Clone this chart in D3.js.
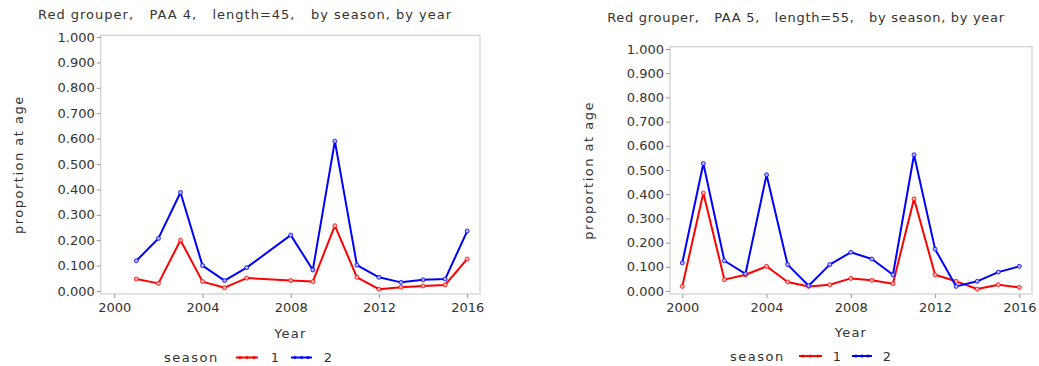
<!DOCTYPE html>
<html>
<head>
<meta charset="utf-8">
<script src="https://cdn.jsdelivr.net/npm/d3@7"></script>
<style>
  html, body { margin: 0; padding: 0; background: #fff; }
  svg { display: block; font-family: "DejaVu Sans", sans-serif; }
</style>
</head>
<body>
<svg id="chart" width="1039" height="366"></svg>
<script>
// PAA 4 (length 45): proportion at age by year, seasons 1 and 2
const yearsA = [2001, 2002, 2003, 2004, 2005, 2006, 2008, 2009, 2010, 2011, 2012, 2013, 2014, 2015, 2016];
const seasonA1 = [0.047, 0.030, 0.200, 0.037, 0.013, 0.051, 0.041, 0.037, 0.257, 0.054, 0.007, 0.015, 0.020, 0.024, 0.126];
const seasonA2 = [0.119, 0.207, 0.388, 0.100, 0.041, 0.092, 0.220, 0.083, 0.590, 0.102, 0.054, 0.034, 0.044, 0.047, 0.236];

// PAA 5 (length 55)
const yearsB = [2000, 2001, 2002, 2003, 2004, 2005, 2006, 2007, 2008, 2009, 2010, 2011, 2012, 2013, 2014, 2015, 2016];
const seasonB1 = [0.019, 0.405, 0.047, 0.067, 0.102, 0.037, 0.019, 0.026, 0.052, 0.044, 0.030, 0.381, 0.067, 0.040, 0.008, 0.026, 0.015];
const seasonB2 = [0.116, 0.527, 0.125, 0.071, 0.480, 0.109, 0.022, 0.109, 0.160, 0.132, 0.067, 0.563, 0.173, 0.019, 0.040, 0.078, 0.102];

const yTicks = [0, 0.1, 0.2, 0.3, 0.4, 0.5, 0.6, 0.7, 0.8, 0.9, 1.0];
const xTicks = [2000, 2004, 2008, 2012, 2016];
const seasonLabels = ["1", "2"];
const seasonColors = ["#ff0000", "#0000ff"];

const FONT = "DejaVu Sans, sans-serif";
const FS = 13;
const svg = d3.select("#chart");

function panel(cfg) {
  const g = svg.append("g");
  const x = d3.scaleLinear().domain(cfg.xDomain).range([cfg.left, cfg.right]);
  const y = d3.scaleLinear().domain(cfg.yDomain).range([cfg.bottom, cfg.top]);

  // title
  g.append("text")
    .attr("x", cfg.titleX).attr("y", cfg.titleY)
    .attr("text-anchor", "middle")
    .attr("font-size", FS).attr("fill", "#333")
    .attr("letter-spacing", cfg.titleSpacing)
    .attr("xml:space", "preserve")
    .text(cfg.title);

  // frame
  g.append("rect")
    .attr("x", cfg.left).attr("y", cfg.top)
    .attr("width", cfg.right - cfg.left).attr("height", cfg.bottom - cfg.top)
    .attr("fill", "none").attr("stroke", "#cfcfcf").attr("stroke-width", 1.2);

  // y axis
  const yAxis = g.append("g")
    .attr("transform", `translate(${cfg.left},0)`)
    .call(d3.axisLeft(y).tickValues(yTicks).tickFormat(d3.format(".3f")).tickSize(4).tickPadding(2));
  yAxis.select(".domain").remove();
  yAxis.selectAll("line").attr("stroke", "#999");
  yAxis.selectAll("text").attr("font-size", FS).attr("fill", "#333").attr("font-family", FONT);

  // x axis
  const xAxis = g.append("g")
    .attr("transform", `translate(0,${cfg.bottom})`)
    .call(d3.axisBottom(x).tickValues(xTicks).tickFormat(d3.format("d")).tickSize(4).tickPadding(5));
  xAxis.select(".domain").remove();
  xAxis.selectAll("line").attr("stroke", "#999");
  xAxis.selectAll("text").attr("font-size", FS).attr("fill", "#333").attr("font-family", FONT);

  // axis titles
  g.append("text")
    .attr("transform", `translate(${cfg.yLabelX},${(cfg.top + cfg.bottom) / 2}) rotate(-90)`)
    .attr("text-anchor", "middle").attr("dy", "0.35em")
    .attr("font-size", FS).attr("fill", "#333").attr("letter-spacing", 1.5)
    .text("proportion at age");
  g.append("text")
    .attr("x", (cfg.left + cfg.right) / 2).attr("y", cfg.yearY)
    .attr("text-anchor", "middle").attr("dy", "0.35em")
    .attr("font-size", FS).attr("fill", "#333").attr("letter-spacing", 1.2)
    .text("Year");

  // series
  const line = d3.line().x(d => x(d[0])).y(d => y(d[1]));
  cfg.series.forEach((vals, i) => {
    const pts = cfg.years.map((yr, k) => [yr, vals[k]]);
    g.append("path").datum(pts)
      .attr("d", line).attr("fill", "none")
      .attr("stroke", seasonColors[i]).attr("stroke-width", 2)
      .attr("stroke-linejoin", "round");
    g.selectAll(null).data(pts).enter().append("circle")
      .attr("cx", d => x(d[0])).attr("cy", d => y(d[1]))
      .attr("r", 2)
      .attr("fill", i === 0 ? "#ffb0b0" : "#b0b0ff")
      .attr("stroke", seasonColors[i]).attr("stroke-width", 0.8);
  });

  // legend
  const lg = g.append("g");
  lg.append("text").attr("x", cfg.legend.seasonX).attr("y", cfg.legend.y)
    .attr("dy", "0.35em").attr("font-size", FS).attr("fill", "#333")
    .attr("letter-spacing", 1.5).text("season");
  seasonLabels.forEach((lab, i) => {
    const [x0, x1, tx] = cfg.legend.items[i];
    lg.append("line").attr("x1", x0).attr("x2", x1)
      .attr("y1", cfg.legend.y).attr("y2", cfg.legend.y)
      .attr("stroke", seasonColors[i]).attr("stroke-width", 2);
    [x0 + 4, (x0 + x1) / 2, x1 - 4].forEach(cx => {
      lg.append("circle").attr("cx", cx).attr("cy", cfg.legend.y).attr("r", 1.6)
        .attr("fill", seasonColors[i]);
    });
    lg.append("text").attr("x", tx).attr("y", cfg.legend.y)
      .attr("dy", "0.35em").attr("text-anchor", "middle")
      .attr("font-size", FS).attr("fill", "#333").text(lab);
  });
}

panel({
  title: "Red grouper,   PAA 4,   length=45,   by season, by year",
  titleX: 245, titleY: 18.5, titleSpacing: 1,
  left: 100.7, right: 480, top: 35.3, bottom: 294,
  xDomain: [1999.383, 2016.58], yDomain: [-0.0118, 1.0067],
  yLabelX: 18, yearY: 333,
  years: yearsA, series: [seasonA1, seasonA2],
  legend: { y: 357.5, seasonX: 164, items: [[236, 258, 275], [291, 312, 328]] }
});

panel({
  title: "Red grouper,   PAA 5,   length=55,   by season, by year",
  titleX: 806, titleY: 22, titleSpacing: 0.7,
  left: 670, right: 1032, top: 46.7, bottom: 294,
  xDomain: [1999.417, 2016.6], yDomain: [-0.0124, 1.0095],
  yLabelX: 588, yearY: 332,
  years: yearsB, series: [seasonB1, seasonB2],
  legend: { y: 356, seasonX: 730, items: [[799, 822, 837], [852, 872, 887]] }
});
</script>
</body>
</html>
